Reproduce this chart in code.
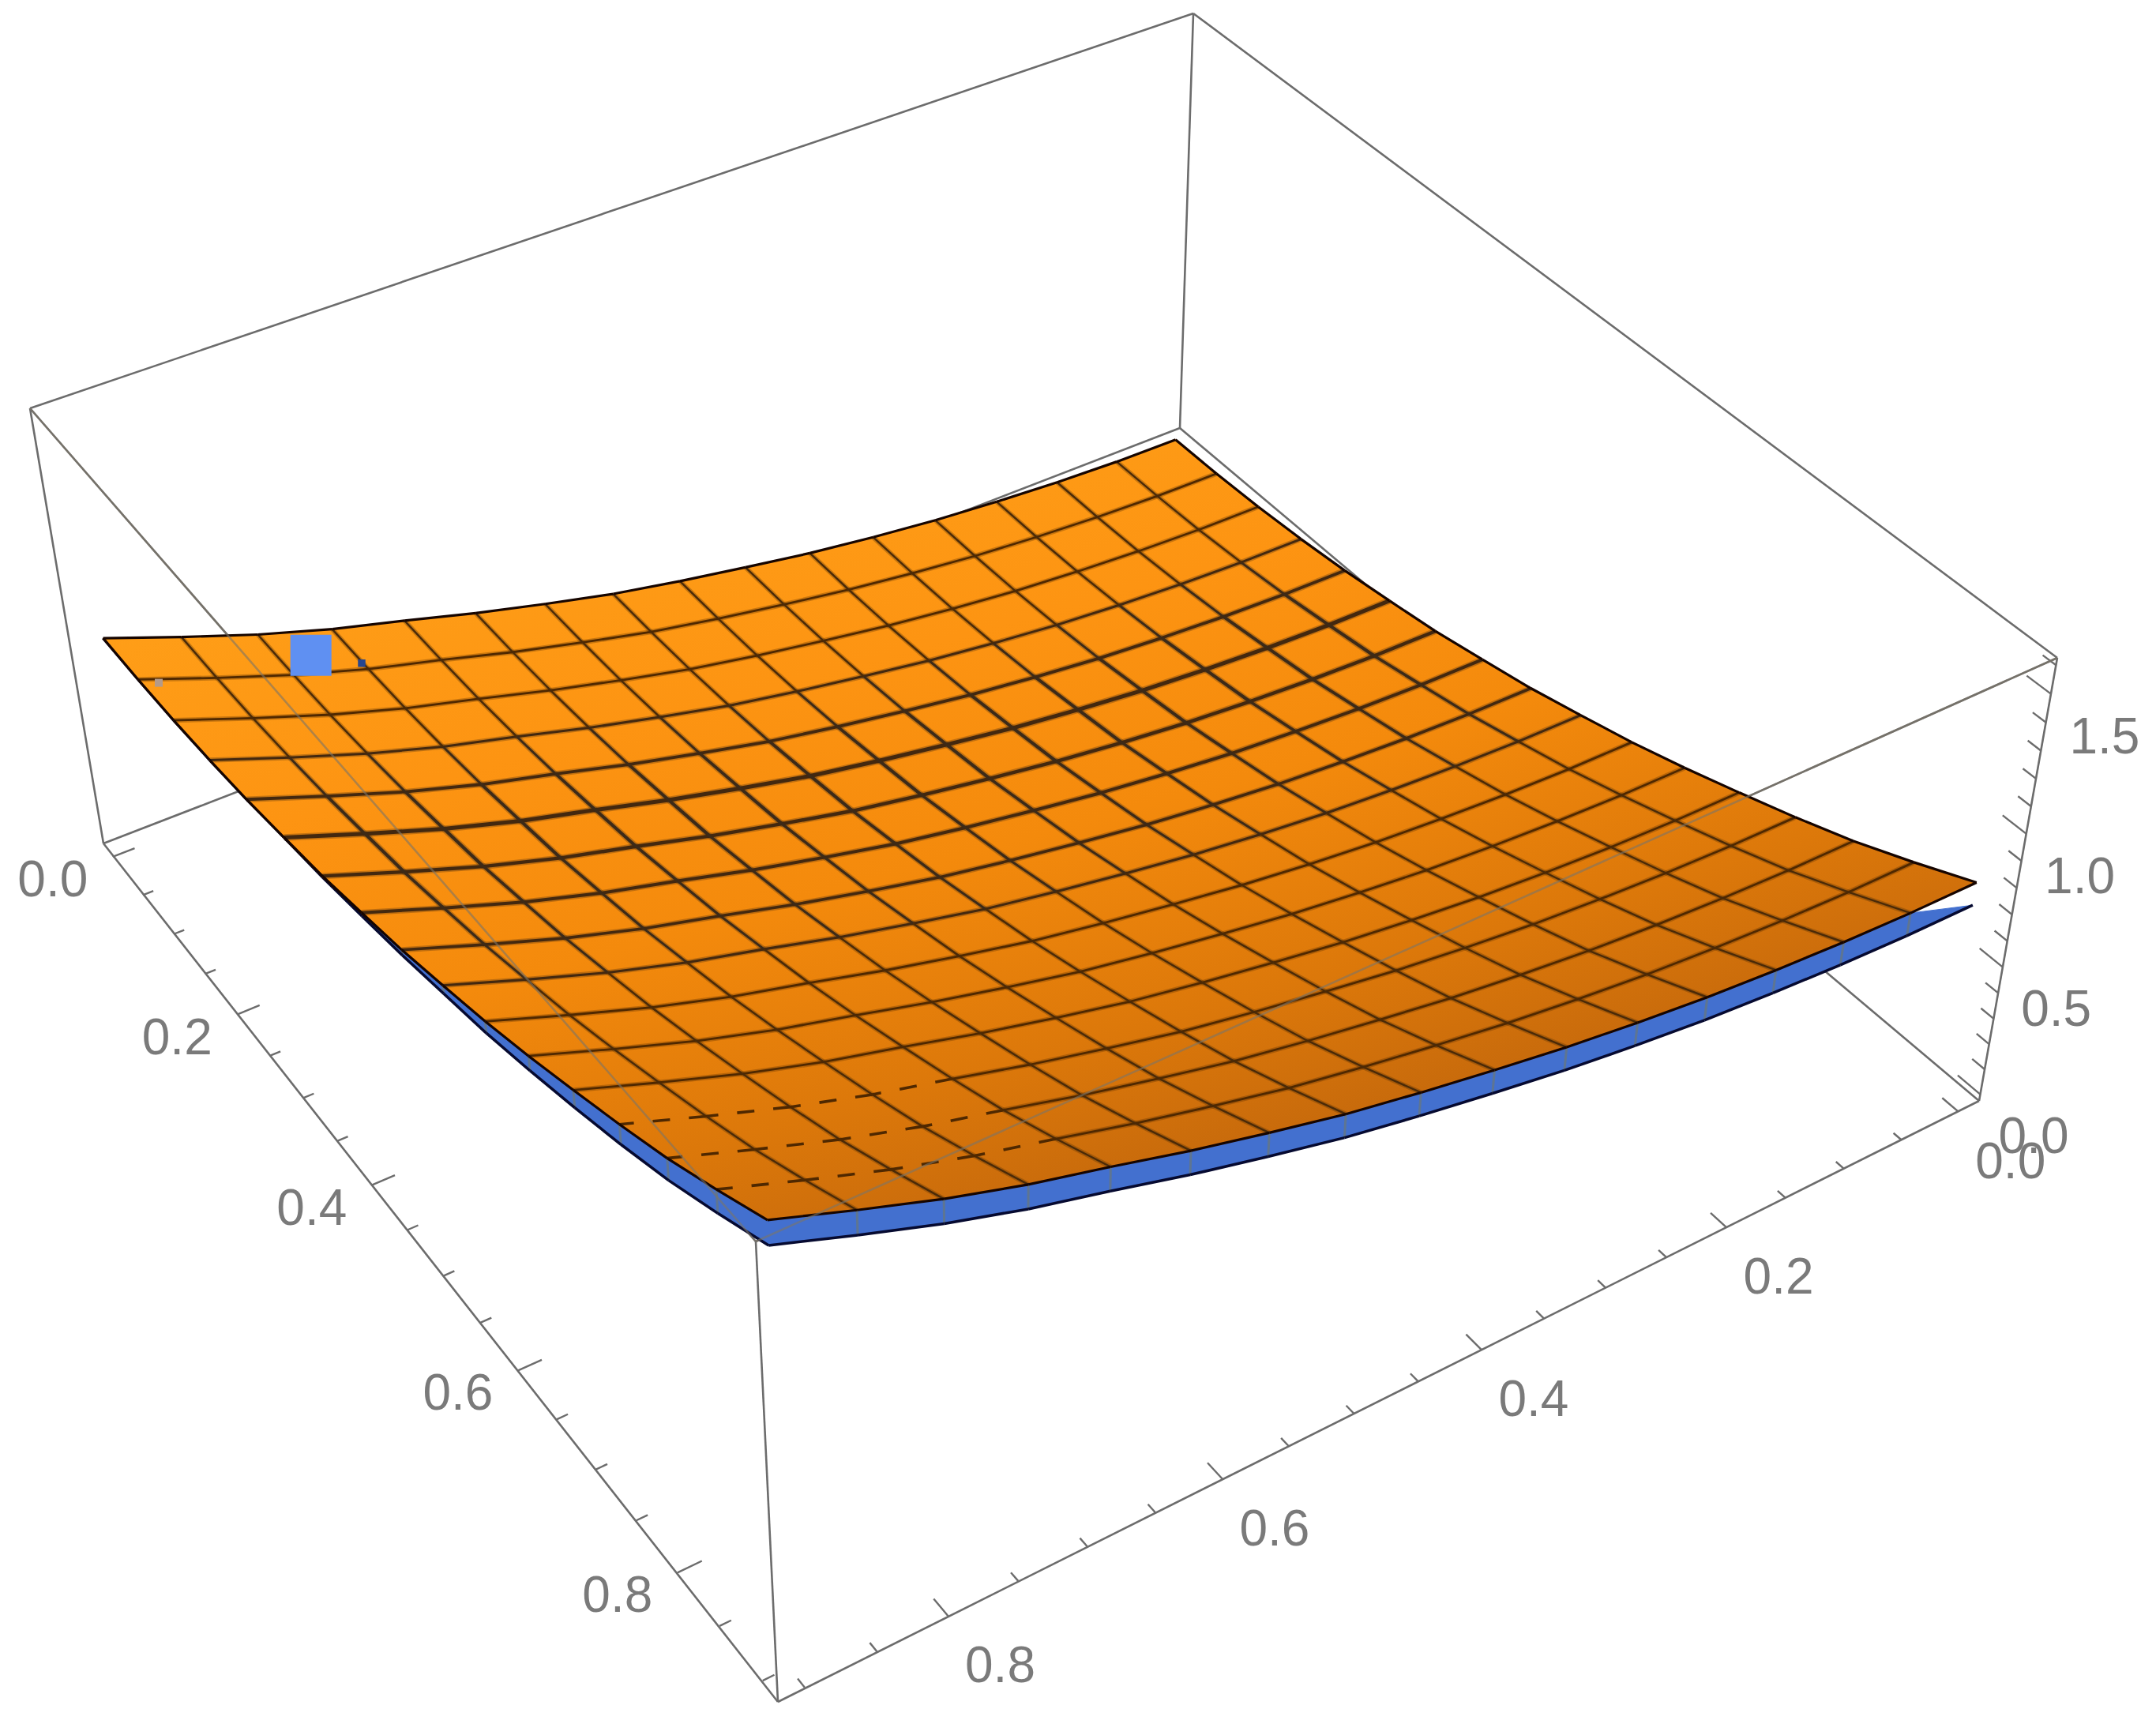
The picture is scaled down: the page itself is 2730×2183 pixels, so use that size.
import numpy as np, pandas as pd, altair as alt

# ---- values ----
Z_ALONG_U = [0.000,0.003,0.012,0.028,0.050,0.080,0.112,0.155,0.200,0.255,0.312,0.378,0.450,0.525,0.606,0.700,0.800]
Z_ALONG_V = [0.000,0.003,0.013,0.029,0.050,0.079,0.113,0.155,0.200,0.250,0.312,0.378,0.452,0.522,0.605,0.700,0.800]
BLUE_GAP_BY_U = [0.000,0.000,0.000,0.000,0.000,0.000,0.005,0.012,0.020,0.030,0.042,0.052,0.062,0.070,0.076,0.081,0.085]
LINE_WIDTH_BY_U = [2.8,2.8,2.8,3.0,3.8,5.0,4.4,4.0,3.6,3.1,2.9,2.8,2.8,2.8,2.8,2.8,2.8]
MESH_AXIS = [0.0,0.05625,0.1125,0.16875,0.225,0.28125,0.3375,0.39375,0.45,0.50625,0.5625,0.61875,0.675,0.73125,0.7875,0.84375,0.9]
BLUE_SPOTS_U = [0.037,0.052]
BLUE_SPOTS_V = [0.765,0.734]
BLUE_SPOTS_Z = [0.587,0.541]
BLUE_SPOTS_SIZE = [2700,90]
BLUE_SPOTS_COLOR = ["#5F90F2","#26468F"]
GREY_SPOT = (0.065,0.889,0.795)
UV_MAJOR = [0.0,0.2,0.4,0.6,0.8]
UV_MINOR = [0.05,0.1,0.15,0.25,0.3,0.35,0.45,0.5,0.55,0.65,0.7,0.75,0.85,0.9]
Z_MAJOR = [0.0,0.5,1.0,1.5]
Z_MINOR = [0.1,0.2,0.3,0.4,0.6,0.7,0.8,0.9,1.1,1.2,1.3,1.4,1.6]
LO, HI = -0.018, 0.918
ZL, ZH = -0.03, 1.63
# camera: where the corners of the bounding box appear in the picture
BOX = [(LO,HI,ZH),(LO,LO,ZH),(HI,LO,ZH),(HI,HI,ZH),(LO,HI,ZL),(LO,LO,ZL),(HI,LO,ZL),(HI,HI,ZL)]
BOX_SCREEN = [(38,517),(1511,17),(2605,833),(957,1572),(131,1068),(1494,542),(2506,1394),(985,2155)]
BOX_EDGES = [(0,1),(1,2),(2,3),(3,0),(4,5),(5,6),(6,7),(7,4),(0,4),(1,5),(2,6),(3,7)]
FRONT_EDGES = [(2,3),(3,0)]

A=[];b=[]
for (u,v,z),(x,y) in zip(BOX,BOX_SCREEN):
    A.append([u,v,z,1,0,0,0,0,-x*u,-x*v,-x*z]);b.append(x)
    A.append([0,0,0,0,u,v,z,1,-y*u,-y*v,-y*z]);b.append(y)
P=np.append(np.linalg.lstsq(np.array(A,float),np.array(b,float),rcond=None)[0],1).reshape(3,4)
def proj(u,v,z):
    w=P@np.array([u,v,z,1.0]); return float(w[0]/w[2]),float(w[1]/w[2])

N=len(MESH_AXIS)
def orange(i,j): return proj(MESH_AXIS[i],MESH_AXIS[j],Z_ALONG_U[i]+Z_ALONG_V[j])
def blue(i,j): return proj(MESH_AXIS[i],MESH_AXIS[j],Z_ALONG_U[i]+Z_ALONG_V[j]-BLUE_GAP_BY_U[i])

def seg(p,q,**kw):
    return dict(x=p[0],y=p[1],x2=q[0],y2=q[1],**kw)

X=alt.X('x:Q',scale=alt.Scale(domain=[8,2722]),axis=None)
Y=alt.Y('y:Q',scale=alt.Scale(domain=[2175,8]),axis=None)
def rules(rows,**mk):
    enc=dict(x=X,y=Y,x2='x2:Q',y2='y2:Q')
    if rows and 'w' in rows[0]: enc['size']=alt.Size('w:Q',scale=None,legend=None)
    if rows and 'c' in rows[0]: enc['color']=alt.Color('c:N',scale=None,legend=None)
    return alt.Chart(pd.DataFrame(rows)).mark_rule(**mk).encode(**enc)
def polygon(pts,**mk):
    df=pd.DataFrame([dict(x=p[0],y=p[1],k=i) for i,p in enumerate(pts)])
    return alt.Chart(df).mark_line(**mk).encode(x=X,y=Y,order='k:Q')

# frame
box_back=rules([seg(BOX_SCREEN[a],BOX_SCREEN[c]) for a,c in BOX_EDGES],color='#6C6C6C',size=2.6)
box_front=rules([seg(BOX_SCREEN[a],BOX_SCREEN[c]) for a,c in FRONT_EDGES],color='#7C7468',size=2.6,opacity=0.6)

# ticks
ticks=[]
for t,ln in [(t,0.017) for t in UV_MAJOR]+[(t,0.008) for t in UV_MINOR]:
    ticks.append(seg(proj(t,HI,ZL),proj(t,HI-ln,ZL)))
for t,ln in [(t,0.016) for t in UV_MAJOR]+[(t,0.008) for t in UV_MINOR]:
    ticks.append(seg(proj(HI,t,ZL),proj(HI-ln,t,ZL)))
for t,ln in [(t,0.022) for t in Z_MAJOR]+[(t,0.012) for t in Z_MINOR]:
    ticks.append(seg(proj(HI,LO,t),proj(HI-ln,LO,t)))
tick_layer=rules(ticks,color='#6C6C6C',size=2.4)

# blue surface: only the rim below the orange sheet shows
rim=[blue(i,N-1) for i in range(N)]+[blue(N-1,j) for j in range(N-2,-1,-1)]
inner=[orange(N-1,j) for j in range(1,N)]+[orange(i,N-1) for i in range(N-2,-1,-1)]
blue_fill=polygon(rim+inner,fill='#4370CF',stroke='#4370CF',strokeWidth=1)
blue_mesh=[seg(blue(N-1,j),orange(N-1,j)) for j in range(1,N-1)]+[seg(blue(i,N-1),orange(i,N-1)) for i in range(7,N-1)]
blue_mesh_layer=rules(blue_mesh,color='#5E7592',size=3)
blue_edge=[seg(blue(i,N-1),blue(i+1,N-1)) for i in range(N-1)]+[seg(blue(N-1,j),blue(N-1,j+1)) for j in range(N-1)]
blue_edge_layer=rules(blue_edge,color='#060A30',size=3.5)

# orange surface
outline=[orange(0,j) for j in range(N)]+[orange(i,N-1) for i in range(1,N)]+[orange(N-1,j) for j in range(N-2,-1,-1)]+[orange(i,0) for i in range(N-2,-1,-1)]
grad=alt.Gradient(gradient='linear',x1=0,y1=0.215,x2=0.52,y2=1.0,stops=[
    alt.GradientStop(offset=0,color='#FF9F18'),alt.GradientStop(offset=0.3,color='#FD9412'),
    alt.GradientStop(offset=0.55,color='#F48A0C'),alt.GradientStop(offset=0.8,color='#DC780A'),
    alt.GradientStop(offset=1,color='#C4680C')])
orange_fill=polygon(outline,fill=grad,stroke='#E08010',strokeWidth=1)

solid=[];dashed=[]
for i in range(1,N-1):
    for j in range(N-1):
        row=seg(orange(i,j),orange(i,j+1),w=LINE_WIDTH_BY_U[i],c='#4F2800' if LINE_WIDTH_BY_U[i]<3 else '#43280F')
        if i>=13 and j>=12:
            dashed.append(dict(row,w=3.6))
        else:
            solid.append(row)
for j in range(1,N-1):
    for i in range(N-1):
        wd=(LINE_WIDTH_BY_U[i]+LINE_WIDTH_BY_U[i+1])/2*0.88
        solid.append(seg(orange(i,j),orange(i+1,j),w=wd,c='#4A2A08' if wd<2.9 else '#3C2A18'))
halo=[dict(r,w=r['w']+3.5) for r in solid]
halo_layer=rules(halo,opacity=0.3)
solid_layer=rules(solid)
dash_layer=rules(dashed,strokeDash=[22,24])

edges=[seg(orange(0,j),orange(0,j+1)) for j in range(N-1)]+[seg(orange(i,0),orange(i+1,0)) for i in range(N-1)]+\
      [seg(orange(i,N-1),orange(i+1,N-1)) for i in range(N-1)]+[seg(orange(N-1,j),orange(N-1,j+1)) for j in range(N-1)]
edge_layer=rules(edges,color='#160500',size=3.2)

spot_rows=[dict(zip(('x','y'),proj(u,v,z)),s=s,c=c) for u,v,z,s,c in zip(BLUE_SPOTS_U,BLUE_SPOTS_V,BLUE_SPOTS_Z,BLUE_SPOTS_SIZE,BLUE_SPOTS_COLOR)]
spot_rows.append(dict(zip(('x','y'),proj(*GREY_SPOT)),s=100,c='#B49A88'))
spot_layer=alt.Chart(pd.DataFrame(spot_rows)).mark_point(filled=True,shape='square',opacity=1).encode(x=X,y=Y,size=alt.Size('s:Q',scale=None,legend=None),color=alt.Color('c:N',scale=None,legend=None))

# tick labels
labels=[]
for t in UV_MAJOR:
    px,py=proj(t,HI,ZL); labels.append(dict(x=px-76,y=py+31,t=f"{t:.1f}"))
    px,py=proj(HI,t,ZL); labels.append(dict(x=px+66,y=py+65,t=f"{t:.1f}"))
for t in Z_MAJOR:
    px,py=proj(HI,LO,t); labels.append(dict(x=px+68,y=py+56,t=f"{t:.1f}"))
label_layer=alt.Chart(pd.DataFrame(labels)).mark_text(font='Liberation Sans',fontSize=64,color='#7A7A7A',align='center',baseline='middle').encode(x=X,y=Y,text='t:N')

chart=alt.layer(box_back,tick_layer,blue_fill,blue_mesh_layer,blue_edge_layer,orange_fill,halo_layer,solid_layer,dash_layer,edge_layer,spot_layer,box_front,label_layer
    ).properties(width=2714,height=2167,padding=0).configure_view(stroke=None)
chart.save("out.html",embed_options={"renderer":"svg","actions":False})
